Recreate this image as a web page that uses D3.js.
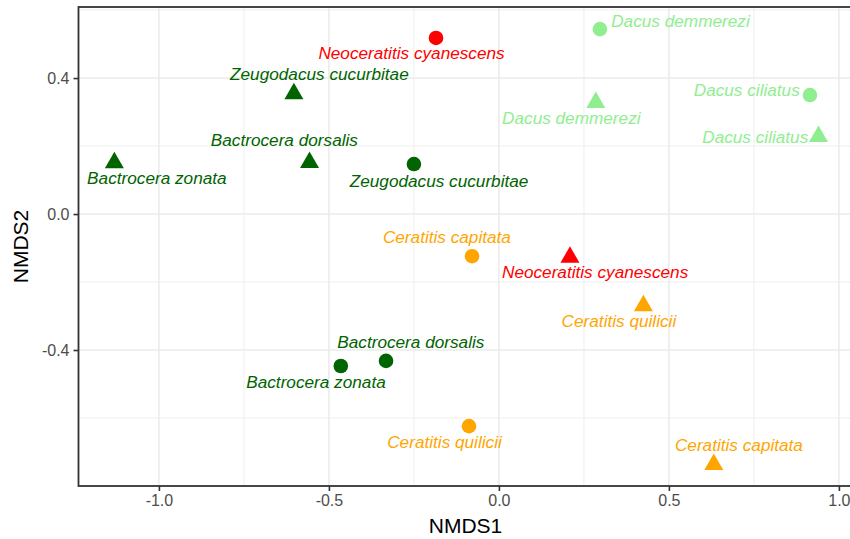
<!DOCTYPE html>
<html>
<head>
<meta charset="utf-8">
<script src="https://cdn.jsdelivr.net/npm/d3@7"></script>
<style>
  body { margin: 0; background: #fff; }
  svg { display: block; font-family: "Liberation Sans", Arial, sans-serif; }
</style>
</head>
<body>
<div id="nmds"></div>
<script>
// NMDS ordination - circles and triangles per species
var species = ["Neoceratitis cyanescens", "Zeugodacus cucurbitae", "Bactrocera dorsalis", "Bactrocera zonata",
               "Dacus demmerezi", "Dacus ciliatus", "Ceratitis capitata", "Ceratitis quilicii"];
var speciesColors = ["red", "darkgreen", "darkgreen", "darkgreen", "lightgreen", "lightgreen", "orange", "orange"];

var circleX = [-0.185, -0.250, -0.332, -0.465, 0.297, 0.915, -0.079, -0.088];
var circleY = [0.518, 0.147, -0.432, -0.447, 0.544, 0.350, -0.124, -0.624];
var triX = [0.209, -0.603, -0.557, -1.131, 0.285, 0.940, 0.632, 0.425];
var triY = [-0.119, 0.362, 0.160, 0.159, 0.336, 0.236, -0.729, -0.262];

// repelled label positions (data units)
var circleLabelX = [-0.257, -0.176, -0.259, -0.538, 0.534, 0.729, -0.153, -0.160];
var circleLabelY = [0.474, 0.097, -0.376, -0.494, 0.568, 0.365, -0.068, -0.671];
var triLabelX = [0.283, -0.528, -0.631, -1.006, 0.213, 0.754, 0.706, 0.353];
var triLabelY = [-0.171, 0.412, 0.218, 0.106, 0.282, 0.226, -0.679, -0.315];

var xTicks = [-1.0, -0.5, 0.0, 0.5, 1.0];
var xMinor = [-0.75, -0.25, 0.25, 0.75];
var yTicks = [-0.4, 0.0, 0.4];
var yMinor = [-0.6, -0.2, 0.2, 0.6];

var svgWidth = 850;
var svgHeight = 539;
var margin = {top: 7, left: 78.5};
var width = 774;
var height = 479;

var svg = d3.select("#nmds")
  .append("svg")
  .attr("width", svgWidth)
  .attr("height", svgHeight);

var chartGroup = svg.append("g")
  .attr("transform", `translate(${margin.left}, ${margin.top})`);

var xScale = d3.scaleLinear().domain([-1.2365, 1.0400]).range([0, width]);
var yScale = d3.scaleLinear().domain([-0.8, 0.609]).range([height, 0]);

// grid
chartGroup.selectAll(".xminor").data(xMinor).join("line")
  .attr("x1", d => xScale(d)).attr("x2", d => xScale(d))
  .attr("y1", 0).attr("y2", height)
  .attr("stroke", "#EBEBEB").attr("stroke-width", 0.8);
chartGroup.selectAll(".yminor").data(yMinor).join("line")
  .attr("y1", d => yScale(d)).attr("y2", d => yScale(d))
  .attr("x1", 0).attr("x2", width)
  .attr("stroke", "#EBEBEB").attr("stroke-width", 0.8);
chartGroup.selectAll(".xmajor").data(xTicks).join("line")
  .attr("x1", d => xScale(d)).attr("x2", d => xScale(d))
  .attr("y1", 0).attr("y2", height)
  .attr("stroke", "#EBEBEB").attr("stroke-width", 1.6);
chartGroup.selectAll(".ymajor").data(yTicks).join("line")
  .attr("y1", d => yScale(d)).attr("y2", d => yScale(d))
  .attr("x1", 0).attr("x2", width)
  .attr("stroke", "#EBEBEB").attr("stroke-width", 1.6);

// axes (plain hyphen for negatives, like R)
var fmt = d => d3.format(".1f")(d).replace("\u2212", "-");
var bottomAxis = d3.axisBottom(xScale).tickValues(xTicks).tickFormat(fmt).tickSize(5).tickPadding(4);
var leftAxis = d3.axisLeft(yScale).tickValues(yTicks).tickFormat(fmt).tickSize(5).tickPadding(4);

var xAxisG = chartGroup.append("g")
  .attr("transform", `translate(0, ${height})`)
  .call(bottomAxis);
var yAxisG = chartGroup.append("g").call(leftAxis);

[xAxisG, yAxisG].forEach(g => {
  g.select(".domain").remove();
  g.selectAll(".tick line").attr("stroke", "#333333").attr("stroke-width", 1.6);
  g.selectAll(".tick text")
    .attr("fill", "#4D4D4D")
    .attr("font-size", "16px")
    .attr("font-family", "Liberation Sans, Arial, sans-serif");
});

// panel border
chartGroup.append("rect")
  .attr("x", 0).attr("y", 0)
  .attr("width", width).attr("height", height)
  .attr("fill", "none")
  .attr("stroke", "#333333")
  .attr("stroke-width", 1.8);

// points
var idx = d3.range(species.length);

chartGroup.selectAll(".circ").data(idx).join("circle")
  .attr("cx", i => xScale(circleX[i]))
  .attr("cy", i => yScale(circleY[i]))
  .attr("r", 7.3)
  .attr("fill", i => speciesColors[i]);

var triSide = 19, triH = 16.5;
chartGroup.selectAll(".tri").data(idx).join("path")
  .attr("transform", i => `translate(${xScale(triX[i])}, ${yScale(triY[i])})`)
  .attr("d", `M0,${-triH / 2}L${triSide / 2},${triH / 2}L${-triSide / 2},${triH / 2}Z`)
  .attr("fill", i => speciesColors[i]);

// labels
function addLabels(lx, ly) {
  chartGroup.append("g").selectAll("text").data(idx).join("text")
    .attr("x", i => xScale(lx[i]))
    .attr("y", i => yScale(ly[i]))
    .attr("dy", "0.35em")
    .attr("text-anchor", "middle")
    .attr("font-size", "17.2px")
    .attr("font-style", "italic")
    .attr("fill", i => speciesColors[i])
    .text(i => species[i]);
}
addLabels(circleLabelX, circleLabelY);
addLabels(triLabelX, triLabelY);

// axis titles
svg.append("text")
  .attr("x", margin.left + width / 2)
  .attr("y", 533)
  .attr("text-anchor", "middle")
  .attr("font-size", "21px")
  .attr("fill", "black")
  .text("NMDS1");

svg.append("text")
  .attr("transform", `translate(28, ${margin.top + height / 2}) rotate(-90)`)
  .attr("text-anchor", "middle")
  .attr("font-size", "21px")
  .attr("fill", "black")
  .text("NMDS2");
</script>
</body>
</html>
